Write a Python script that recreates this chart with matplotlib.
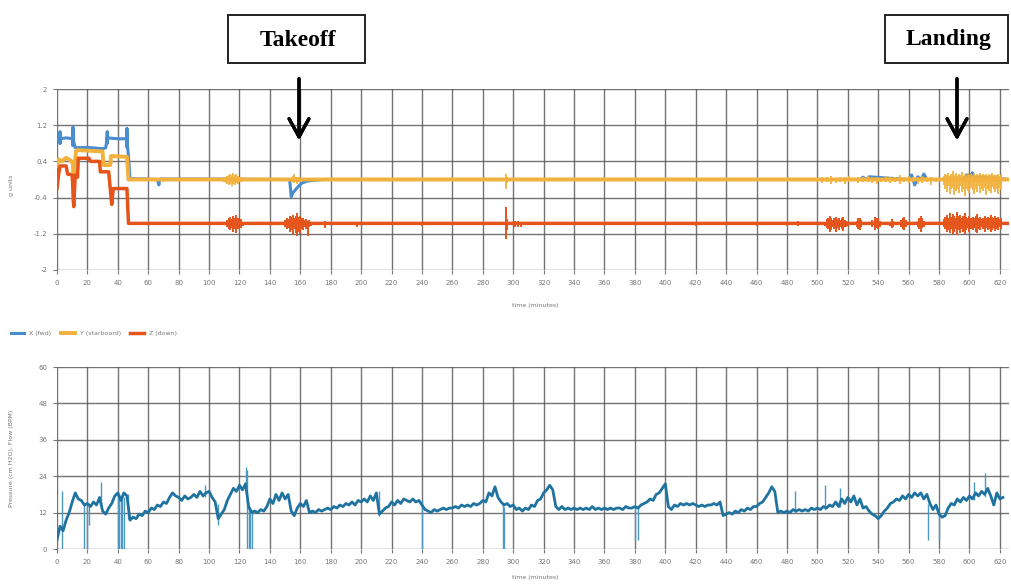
import numpy as np
import matplotlib
matplotlib.use('Agg')
import matplotlib.pyplot as plt
from matplotlib.patches import Rectangle

# ---- acceleration (g units), top panel ----
x_time = [0, 2, 2, 2, 2, 6, 10.5, 10.5, 10.5, 10.5, 12, 20, 30, 32, 33,
          33, 33, 33, 40, 46, 46, 46, 46, 47, 48, 60, 66, 67, 67.5, 68,
          100, 153, 154, 155, 157, 159, 161, 164, 168, 175, 528, 530, 532, 534, 560,
          562, 564, 566, 568, 570, 572, 596, 598, 600, 602, 604, 606, 626]
x_vals = [0.9, 0.9, 1.05, 0.8, 0.9, 0.92, 0.9, 1.15, 0.75, 0.9, 0.7, 0.71, 0.68, 0.7, 0.9,
          1.05, 0.8, 0.92, 0.9, 0.9, 1.12, 0.72, 0.9, 0.5, 0.02, 0.01, 0.0, -0.12, 0.0, 0.01,
          0.01, 0.0, -0.38, -0.3, -0.22, -0.14, -0.08, -0.04, -0.02, 0.0, 0.0, 0.05, 0.0, 0.06, 0.0,
          0.1, -0.12, 0.06, 0.0, 0.12, 0.0, 0.0, 0.1, 0.03, 0.15, 0.0, 0.06, 0.0]

y_time = [0, 1, 3, 6, 9, 10.5, 11, 11.5, 12.5, 13, 30, 30.5, 35, 35.5, 46, 47, 48, 626]
y_vals = [0.3, 0.45, 0.4, 0.48, 0.42, 0.35, -0.5, 0.3, 0.62, 0.65, 0.62, 0.32, 0.32, 0.52, 0.5, 0.0, 0.0, 0.0]

z_time = [0, 1, 2, 6, 7, 10, 11, 12, 13.5, 14, 21, 22, 28, 28.5, 34, 35, 36, 37, 46, 47, 48, 626]
z_vals = [-0.2, 0.1, 0.3, 0.3, 0.12, 0.1, -0.6, 0.1, 0.05, 0.47, 0.47, 0.4, 0.4, 0.17, 0.17,
          -0.2, -0.55, -0.2, -0.2, -0.97, -0.97, -0.97]

# noisy stretches (Z)
z_noise_t = ([112, 113, 114, 115, 116, 117, 118, 119, 120, 121, 122]
             + list(range(150, 168))
             + [176, 197, 240, 295, 296, 301, 303, 305, 420, 460, 480, 487]
             + list(range(505, 521))
             + [526, 527, 528, 529, 536, 538, 539, 540, 541]
             + [548, 549, 550, 555, 556, 557, 558, 566, 567, 568, 569, 570]
             + list(range(583, 622)))
z_noise_lo = ([-1.04, -1.1, -1.12, -1.08, -1.15, -1.1, -1.18, -1.1, -1.05, -1.08, -1.02]
              + [-1.05, -1.1, -1.08, -1.15, -1.12, -1.2, -1.1, -1.18, -1.25, -1.15, -1.2, -1.1,
                 -1.12, -1.05, -1.1, -1.25, -1.05, -1.02]
              + [-1.08, -1.06, -1.03, -1.32, -1.12, -1.04, -1.05, -1.04, -1.02, -1.02, -1.03, -1.02]
              + [-1.02, -1.08, -1.1, -1.15, -1.12, -1.05, -1.1, -1.16, -1.08, -1.12, -1.05, -1.1,
                 -1.14, -1.06, -1.04, -1.02]
              + [-1.04, -1.1, -1.12, -1.06, -1.05, -1.12, -1.08, -1.1, -1.04]
              + [-1.03, -1.08, -1.04, -1.05, -1.1, -1.12, -1.05, -1.04, -1.1, -1.15, -1.08, -1.04]
              + [-1.05, -1.1, -1.15, -1.12, -1.18, -1.1, -1.2, -1.15, -1.1, -1.22, -1.12, -1.18,
                 -1.1, -1.15, -1.2, -1.12, -1.08, -1.15, -1.1, -1.12, -1.08, -1.15, -1.18, -1.1,
                 -1.12, -1.05, -1.1, -1.15, -1.08, -1.12, -1.1, -1.16, -1.12, -1.08, -1.14, -1.1,
                 -1.12, -1.06, -1.1])
z_noise_hi = ([-0.9, -0.85, -0.82, -0.88, -0.8, -0.84, -0.78, -0.86, -0.9, -0.88, -0.93]
              + [-0.9, -0.85, -0.88, -0.8, -0.82, -0.78, -0.85, -0.8, -0.75, -0.82, -0.8, -0.86,
                 -0.85, -0.9, -0.88, -0.92, -0.9, -0.93]
              + [-0.92, -0.94, -0.93, -0.6, -0.88, -0.92, -0.92, -0.93, -0.94, -0.94, -0.93, -0.92]
              + [-0.93, -0.88, -0.85, -0.8, -0.84, -0.9, -0.86, -0.82, -0.88, -0.84, -0.9, -0.86,
                 -0.83, -0.9, -0.92, -0.94]
              + [-0.92, -0.86, -0.84, -0.9, -0.9, -0.82, -0.86, -0.85, -0.92]
              + [-0.93, -0.88, -0.92, -0.9, -0.86, -0.82, -0.9, -0.92, -0.85, -0.8, -0.86, -0.92]
              + [-0.88, -0.82, -0.78, -0.84, -0.75, -0.82, -0.76, -0.8, -0.85, -0.72, -0.8, -0.78,
                 -0.84, -0.8, -0.74, -0.82, -0.86, -0.8, -0.84, -0.82, -0.86, -0.8, -0.76, -0.84,
                 -0.82, -0.88, -0.84, -0.8, -0.86, -0.82, -0.84, -0.78, -0.82, -0.86, -0.8, -0.84,
                 -0.82, -0.88, -0.84])

# noisy stretches (Y)
y_noise_t = (list(range(110, 123)) + list(range(155, 163)) + [70, 295, 296]
             + [500, 503, 506, 509, 512, 515, 518, 521, 524, 527, 530, 533, 536, 539, 542,
                545, 548, 551, 554, 557, 560, 563, 566, 569, 572, 575, 578]
             + list(range(583, 622)))
y_noise_lo = ([-0.05, -0.08, -0.1, -0.12, -0.1, -0.14, -0.1, -0.12, -0.08, -0.1, -0.06, -0.05, -0.04]
              + [-0.06, -0.08, -0.05, -0.1, -0.06, -0.05, -0.04, -0.03]
              + [-0.06, -0.22, -0.08]
              + [-0.05, -0.08, -0.06, -0.1, -0.07, -0.05, -0.09, -0.06, -0.04, -0.08, -0.06, -0.05,
                 -0.08, -0.1, -0.06, -0.05, -0.07, -0.06, -0.09, -0.05, -0.08, -0.06, -0.1, -0.07,
                 -0.05, -0.12, -0.06]
              + [-0.12, -0.2, -0.28, -0.15, -0.32, -0.22, -0.18, -0.35, -0.25, -0.2, -0.3, -0.15,
                 -0.28, -0.22, -0.36, -0.2, -0.25, -0.3, -0.18, -0.24, -0.32, -0.2, -0.28, -0.15,
                 -0.3, -0.22, -0.26, -0.18, -0.34, -0.2, -0.25, -0.3, -0.16, -0.22, -0.28, -0.2,
                 -0.32, -0.18, -0.24])
y_noise_hi = ([0.05, 0.06, 0.08, 0.1, 0.12, 0.1, 0.14, 0.1, 0.12, 0.08, 0.06, 0.05, 0.04]
              + [0.08, 0.12, 0.06, 0.05, 0.06, 0.04, 0.03, 0.03]
              + [0.02, 0.12, 0.05]
              + [0.04, 0.06, 0.05, 0.07, 0.04, 0.06, 0.05, 0.08, 0.04, 0.06, 0.05, 0.07,
                 0.05, 0.06, 0.04, 0.08, 0.05, 0.06, 0.1, 0.05, 0.07, 0.06, 0.05, 0.08,
                 0.06, 0.05, 0.04]
              + [0.08, 0.12, 0.1, 0.15, 0.08, 0.12, 0.18, 0.1, 0.14, 0.08, 0.12, 0.1,
                 0.16, 0.08, 0.12, 0.1, 0.14, 0.09, 0.12, 0.1, 0.15, 0.08, 0.12, 0.1,
                 0.14, 0.09, 0.12, 0.1, 0.13, 0.08, 0.12, 0.1, 0.14, 0.09, 0.11, 0.1,
                 0.12, 0.08, 0.1])

# ---- pressure, bottom panel (sampled every 2 min) ----
p_time = np.arange(0, 624, 2)
p_vals = [3.0, 7.5, 6.0, 9.5, 12.0, 15.5, 18.5, 16.5, 16.0, 14.5,
          15.0, 14.0, 15.5, 14.5, 17.0, 12.5, 11.5, 13.5, 15.0, 17.5,
          18.5, 16.0, 18.5, 17.5, 9.5, 10.5, 10.0, 11.5, 11.0, 12.5,
          12.0, 13.5, 13.0, 14.5, 14.0, 15.5, 15.0, 17.0, 18.5, 17.5,
          17.0, 16.0, 17.5, 16.5, 17.0, 18.0, 17.0, 19.0, 17.5, 18.5,
          19.0, 17.0, 15.5, 10.0, 11.5, 13.0, 16.0, 18.0, 20.0, 19.0,
          21.0, 19.5, 21.5, 14.0, 12.0, 12.5, 12.0, 13.0, 12.5, 14.0,
          16.5, 15.0, 18.0, 16.0, 18.5, 16.5, 18.0, 12.5, 11.0, 13.5,
          15.0, 14.0, 16.0, 12.0, 12.5, 12.0, 13.0, 12.5, 13.0, 13.5,
          13.0, 14.0, 13.5, 14.5, 14.0, 15.0, 14.5, 15.5, 14.5, 16.0,
          15.5, 16.5, 15.5, 17.5, 16.0, 18.5, 11.5, 12.5, 13.5, 14.0,
          15.5, 14.5, 16.0, 15.0, 16.5, 16.0, 15.5, 16.5, 15.5, 16.0,
          14.5, 13.0, 12.5, 12.0, 13.0, 12.5, 13.0, 13.5, 13.0, 13.5,
          13.5, 14.0, 13.5, 14.5, 14.0, 14.5, 14.0, 15.0, 14.5, 15.0,
          16.0, 15.5, 18.5, 17.5, 20.5, 17.0, 15.5, 14.5, 15.0, 14.0,
          14.5, 13.0, 13.5, 12.5, 13.5, 13.0, 14.5, 14.0, 16.0, 16.5,
          18.5, 19.5, 21.0, 19.5, 14.0, 13.0, 14.0, 13.0, 13.5, 13.0,
          13.5, 13.0, 13.5, 13.0, 13.5, 13.0, 14.0, 13.0, 13.5, 13.0,
          13.5, 13.0, 13.5, 13.0, 13.5, 13.5, 13.0, 14.0, 13.5, 13.5,
          14.0, 13.5, 14.5, 15.0, 15.5, 16.5, 16.0, 18.0, 18.5, 20.0,
          21.5, 14.0, 13.0, 14.5, 14.0, 15.0, 14.5, 15.0, 14.5, 15.0,
          14.5, 14.0, 14.5, 14.0, 14.5, 14.5, 15.0, 14.5, 15.5, 11.0,
          11.5, 12.0, 11.5, 12.5, 12.0, 13.0, 12.5, 13.5, 13.0, 14.0,
          14.0, 15.0, 15.5, 17.0, 18.5, 20.5, 19.0, 12.0, 12.5, 12.0,
          12.5, 12.0, 13.0, 12.5, 13.0, 12.5, 13.0, 12.5, 13.5, 13.0,
          13.5, 13.0, 14.0, 13.5, 14.5, 14.0, 15.5, 14.0, 16.5, 15.0,
          17.0, 15.5, 17.5, 14.5, 16.5, 13.5, 14.0, 12.5, 11.5, 11.0,
          10.0, 11.0, 12.5, 13.5, 15.0, 15.5, 16.5, 16.0, 17.5, 16.5,
          18.0, 17.0, 18.5, 17.5, 18.5, 16.5, 18.0, 15.0, 13.0, 14.5,
          11.5, 10.5, 11.0, 13.5, 15.0, 14.5, 16.5, 15.5, 17.0, 16.0,
          17.5, 16.5, 18.5, 17.5, 19.0, 18.0, 20.0, 17.5, 14.5, 18.5,
          16.5, 17.0]

# drop-outs and spikes in the pressure trace
p_spike_t = [3, 18, 19.5, 21, 40, 41, 42, 43, 44, 47, 106, 125, 126, 127, 128, 240, 293, 294,
             380, 382, 573, 580, 29, 97, 124, 212, 485, 505, 515, 603, 610]
p_spike_lo = [0, 0, 0, 8, 0, 0, 0, 0, 0, 10, 8, 0, 0, 0, 0, 0, 0, 0,
              3, 3, 3, 3, 14, 17, 19, 11, 12, 13, 14, 16, 17]
p_spike_hi = [19, 15, 15, 15, 18, 18, 17, 18, 17, 18, 15, 26, 14, 14, 13, 16, 15, 14,
              14, 14, 15, 12, 22, 21, 27, 19, 19, 21, 20, 22, 25]

W, H = 1011, 586
fig = plt.figure(figsize=(W / 100, H / 100), dpi=100)

c_x = '#4a8cd0'
c_y = '#f2b13c'
c_z = '#e5541b'
c_p = '#1f73a0'
grid_c = '#5a5a5a'
tick_c = '#777777'


def style(ax, yticks, ylabels):
    ax.set_xlim(0, 626)
    ax.set_xticks(range(0, 621, 20))
    ax.set_yticks(yticks)
    ax.set_yticklabels(ylabels)
    ax.grid(True, color=grid_c, lw=1.0, alpha=0.85)
    ax.set_axisbelow(True)
    for s in ax.spines.values():
        s.set_visible(False)
    ax.tick_params(labelsize=5, colors=tick_c, length=3, width=0.8, pad=4)


ax1 = fig.add_axes([57 / W, 1 - 270 / H, 952 / W, 181 / H])
ax1.plot(x_time, x_vals, color=c_x, lw=2.2, label='X (fwd)')
ax1.plot(y_time, y_vals, color=c_y, lw=2.8, label='Y (starboard)')
ax1.vlines(y_noise_t, y_noise_lo, y_noise_hi, color=c_y, lw=1.3)
ax1.plot(z_time, z_vals, color=c_z, lw=2.5, label='Z (down)')
ax1.vlines(z_noise_t, z_noise_lo, z_noise_hi, color=c_z, lw=1.4)
ax1.set_ylim(-2, 2)
style(ax1, [2, 1.2, 0.4, -0.4, -1.2, -2], ['2', '1.2', '0.4', '-0.4', '-1.2', '-2'])

ax2 = fig.add_axes([57 / W, 1 - 549 / H, 952 / W, 182 / H])
ax2.vlines(p_spike_t, p_spike_lo, p_spike_hi, color='#4d98c0', lw=1.0)
ax2.plot(p_time, p_vals, color=c_p, lw=2.0)
ax2.set_ylim(0, 60)
style(ax2, [60, 48, 36, 24, 12, 0], ['60', '48', '36', '24', '12', '0'])

fig.text(535 / W, 1 - 305 / H, 'time (minutes)', fontsize=4.5, color=tick_c, ha='center', va='center')
fig.text(535 / W, 1 - 578 / H, 'time (minutes)', fontsize=4.5, color=tick_c, ha='center', va='center')
fig.text(12 / W, 1 - 185 / H, 'g units', fontsize=4.5, color=tick_c, rotation=90, ha='center', va='center')
fig.text(12 / W, 1 - 458 / H, 'Pressure (cm H2O), Flow (BPM)', fontsize=4.5, color=tick_c,
         rotation=90, ha='center', va='center')

h, l = ax1.get_legend_handles_labels()
fig.legend(h, l, loc='center left', bbox_to_anchor=(5 / W, 1 - 333 / H), ncol=3, fontsize=4.5,
           frameon=False, handlelength=2.2, columnspacing=1.5, labelcolor=tick_c)

# annotation boxes and arrows
for x0, x1, txt in [(228, 365, 'Takeoff'), (885, 1008, 'Landing')]:
    fig.add_artist(Rectangle((x0 / W, 1 - 63 / H), (x1 - x0) / W, 48 / H, transform=fig.transFigure,
                             fill=False, ec='#222222', lw=1.4))
    fig.text((x0 + x1) / 2 / W + 2 / W, 1 - 40 / H, txt, fontsize=17, fontweight='bold',
             family='Liberation Serif', ha='center', va='center')

for xa in [299, 957]:
    fig.add_artist(plt.annotate('', xy=(xa / W, 1 - 143 / H), xytext=(xa / W, 1 - 76 / H),
                                xycoords='figure fraction', textcoords='figure fraction',
                                arrowprops=dict(arrowstyle='->,head_length=1.0,head_width=0.55',
                                                lw=2.4, color='black', mutation_scale=13)))

fig.savefig('out.png', dpi=100)
